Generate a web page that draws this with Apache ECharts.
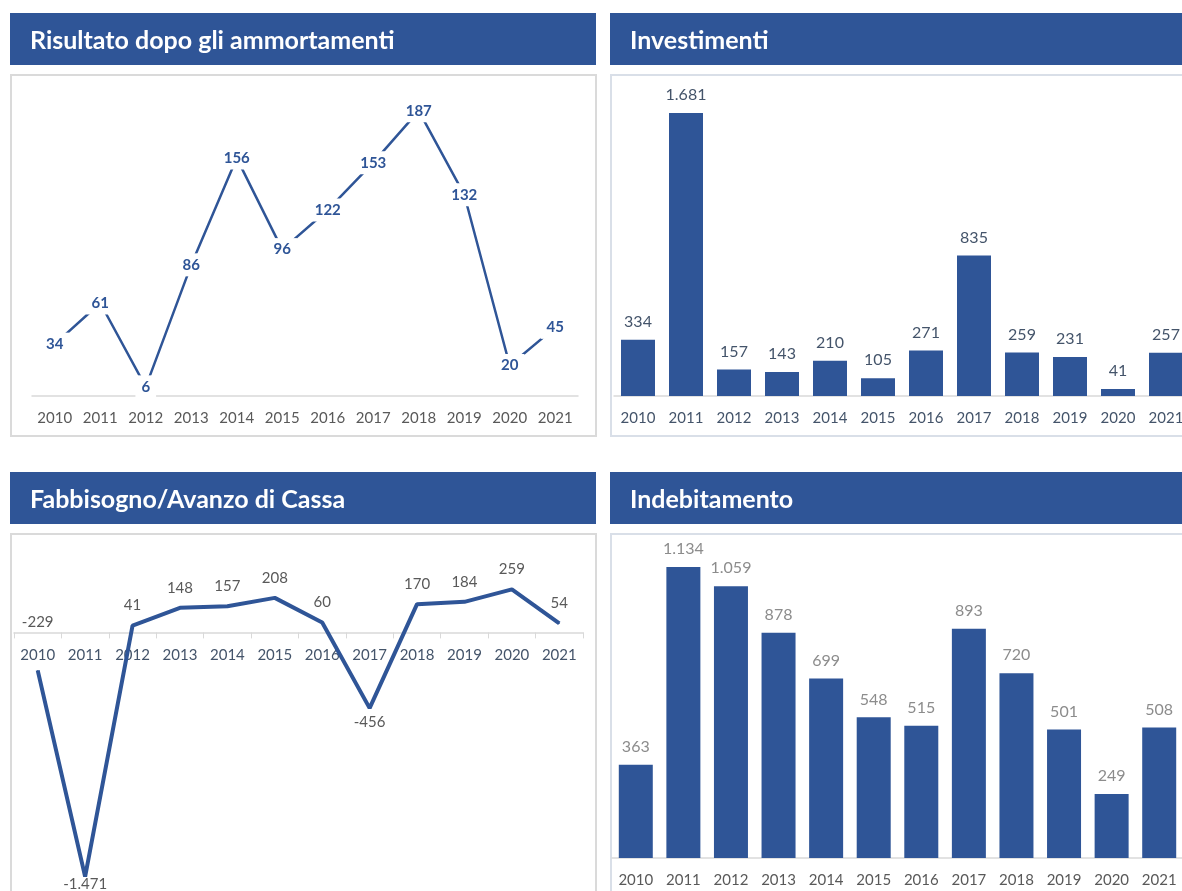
<!DOCTYPE html>
<html>
<head>
<meta charset="utf-8">
<title>Cruscotto</title>
<script src="https://cdn.jsdelivr.net/npm/echarts@6/dist/echarts.min.js"></script>
<style>
  html, body { margin: 0; padding: 0; background: #fff; }
  #chart { width: 1182px; height: 891px; }
</style>
</head>
<body>
<div id="chart"></div>
<script>
// dati
const anni = ['2010', '2011', '2012', '2013', '2014', '2015', '2016', '2017', '2018', '2019', '2020', '2021'];
const risultato = [34, 61, 6, 86, 156, 96, 122, 153, 187, 132, 20, 45];
const investimenti = [334, 1681, 157, 143, 210, 105, 271, 835, 259, 231, 41, 257];
const fabbisogno = [-229, -1471, 41, 148, 157, 208, 60, -456, 170, 184, 259, 54];
const indebitamento = [363, 1134, 1059, 878, 699, 548, 515, 893, 720, 501, 249, 508];
const titoli = ['Risultato dopo gli ammortamenti', 'Investimenti', 'Fabbisogno/Avanzo di Cassa', 'Indebitamento'];

const BLU = '#2F5597';
const FONT = 'Lato, "Open Sans", sans-serif';

// separatore migliaia all'italiana
function fmt(v) {
    const s = String(Math.abs(v)).replace(/\B(?=(\d{3})+(?!\d))/g, '.');
    return (v < 0 ? '-' : '') + s;
}

function header(x, y, w, testo) {
    return [
        { type: 'rect', shape: { x: x, y: y, width: w, height: 52 }, style: { fill: BLU }, z: 0 },
        { type: 'text', x: x + 20, y: y + 28, style: { text: testo, fill: '#fff', font: 'bold 25px ' + FONT, textVerticalAlign: 'middle' }, z: 1 }
    ];
}
function box(x, y, w, h, col) {
    return { type: 'rect', shape: { x: x, y: y, width: w, height: h }, style: { fill: 'none', stroke: col, lineWidth: 2 }, z: 0, silent: true };
}

function xAx(idx, color, ticks) {
    return {
        type: 'category', gridIndex: idx, data: anni,
        axisLine: { onZero: true, lineStyle: { color: '#D9D9D9', width: 1.5 } },
        axisTick: { show: ticks, length: 6, lineStyle: { color: '#D9D9D9' } },
        axisLabel: { color: color, fontSize: 15, fontFamily: FONT, margin: 15, interval: 0 }
    };
}
function yAx(idx, min, max) {
    return {
        type: 'value', gridIndex: idx, min: min, max: max,
        axisLine: { show: false }, axisTick: { show: false }, axisLabel: { show: false },
        splitLine: { show: false }
    };
}

const grids = [
    { left: 32, top: 91, width: 546, height: 305, outerBoundsMode: 'none', containLabel: false },
    { left: 614, top: 93, width: 576, height: 303, outerBoundsMode: 'none', containLabel: false },
    { left: 14, top: 566, width: 569, height: 332, outerBoundsMode: 'none', containLabel: false },
    { left: 612, top: 550, width: 571, height: 308, outerBoundsMode: 'none', containLabel: false }
];
const xAxes = [
    xAx(0, '#595959', false),
    xAx(1, '#44546A', false),
    xAx(2, '#44546A', true),
    xAx(3, '#595959', false)
];

const chart = echarts.init(document.getElementById('chart'));
chart.setOption({
    animation: false,
    backgroundColor: '#fff',
    graphic: [
        box(11, 75, 585, 361, '#DADADA'),
        box(611, 75, 580, 361, '#D9DFE8'),
        box(11, 534, 585, 370, '#DADADA'),
        box(611, 534, 580, 370, '#D9DFE8')
    ].concat(
        header(10, 13, 586, titoli[0]),
        header(610, 13, 580, titoli[1]),
        header(10, 472, 586, titoli[2]),
        header(610, 472, 580, titoli[3])
    ),
    grid: grids,
    xAxis: xAxes,
    yAxis: [
        yAx(0, 0, 200),
        yAx(1, 0, 1800),
        yAx(2, -1600, 400),
        yAx(3, 0, 1200)
    ],
    series: [
        {
            type: 'line', xAxisIndex: 0, yAxisIndex: 0,
            data: risultato,
            symbol: 'circle', symbolSize: 1,
            itemStyle: { color: BLU },
            lineStyle: { color: BLU, width: 2.5 },
            label: {
                show: true, position: 'inside', color: BLU, fontWeight: 'bold', fontSize: 15, fontFamily: FONT,
                backgroundColor: '#fff', padding: [4, 6], formatter: p => fmt(p.value)
            },
            z: 3
        },
        {
            type: 'bar', xAxisIndex: 1, yAxisIndex: 1,
            data: investimenti, barWidth: 34,
            itemStyle: { color: BLU },
            label: { show: true, position: 'top', distance: 10, color: '#44546A', fontSize: 16, fontFamily: FONT, formatter: p => fmt(p.value) }
        },
        {
            type: 'line', xAxisIndex: 2, yAxisIndex: 2,
            data: fabbisogno.map((v, i) => ({
                value: v,
                label: i === 0 ? { position: 'top', distance: 40 }
                    : (v < -1000 ? { position: 'bottom', distance: 0 }
                    : (v < 0 ? { position: 'bottom', distance: 6 } : { position: 'top', distance: 12 }))
            })),
            symbol: 'circle', symbolSize: 1,
            itemStyle: { color: BLU },
            lineStyle: { color: BLU, width: 4 },
            label: { show: true, color: '#595959', fontSize: 15, fontFamily: FONT, formatter: p => fmt(p.value) },
            z: 3
        },
        {
            type: 'bar', xAxisIndex: 3, yAxisIndex: 3,
            data: indebitamento, barWidth: 34,
            itemStyle: { color: BLU },
            label: { show: true, position: 'top', distance: 10, color: '#8C8C8C', fontSize: 16, fontFamily: FONT, formatter: p => fmt(p.value) }
        }
    ]
});

// le etichette dell'asse x del terzo grafico vanno sulla linea dello zero
const zeroY = chart.convertToPixel({ yAxisIndex: 2 }, 0);
const fondo = grids[2].top + grids[2].height;
xAxes[2].axisLine.onZero = false;
xAxes[2].offset = -(fondo - zeroY);
chart.setOption({ xAxis: xAxes });
</script>
</body>
</html>
